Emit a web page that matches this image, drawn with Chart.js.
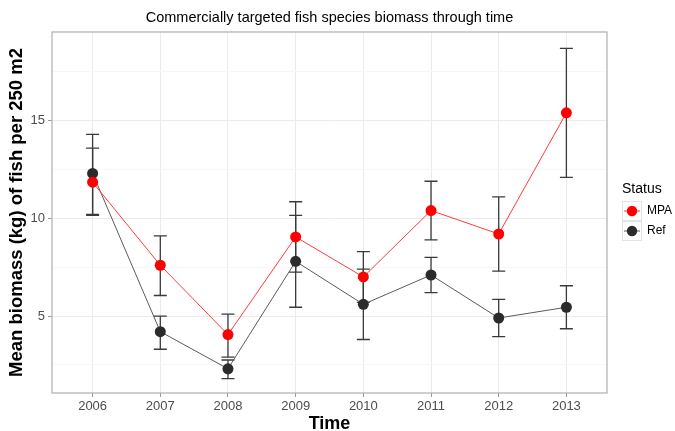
<!DOCTYPE html>
<html>
<head>
<meta charset="utf-8">
<script src="https://cdn.jsdelivr.net/npm/chart.js@4"></script>
<style>
  html, body { margin: 0; padding: 0; background: #fff; }
</style>
</head>
<body>
<canvas id="grafico-biomassa" width="675" height="431"></canvas>
<script>
// Dados
const anos = [2006, 2007, 2008, 2009, 2010, 2011, 2012, 2013];
const marcasY = [2.5, 5, 7.5, 10, 12.5, 15, 17.5];

const mpaMedia = [11.85, 7.6, 4.05, 9.05, 7.0, 10.4, 9.2, 15.4];
const mpaInf   = [10.15, 6.05, 2.9, 7.25, 5.7, 8.9, 7.3, 12.1];
const mpaSup   = [13.6, 9.1, 5.1, 10.85, 8.3, 11.9, 11.1, 18.7];

const refMedia = [12.3, 4.2, 2.3, 7.8, 5.6, 7.1, 4.9, 5.45];
const refInf   = [10.2, 3.3, 1.8, 5.45, 3.8, 6.2, 3.95, 4.35];
const refSup   = [14.3, 5.0, 2.75, 10.15, 7.4, 8.0, 5.85, 6.55];

const fonte = 'Liberation Sans, Arial, sans-serif';

function pontos(valores) {
    return anos.map((a, i) => ({ x: a, y: valores[i] }));
}

// Barras de erro desenhadas pelas escalas do gráfico
const barrasErro = {
    id: 'barrasErro',
    beforeDatasetsDraw(chart) {
        const { ctx, scales: { x, y } } = chart;
        ctx.save();
        ctx.strokeStyle = '#3a3a3a';
        ctx.lineWidth = 1.3;
        chart.data.datasets.forEach(ds => {
            ds.inf.forEach((v, i) => {
                const px = x.getPixelForValue(anos[i]);
                const y1 = y.getPixelForValue(v);
                const y2 = y.getPixelForValue(ds.sup[i]);
                ctx.beginPath();
                ctx.moveTo(px, y1); ctx.lineTo(px, y2);
                ctx.moveTo(px - 6.5, y1); ctx.lineTo(px + 6.5, y1);
                ctx.moveTo(px - 6.5, y2); ctx.lineTo(px + 6.5, y2);
                ctx.stroke();
            });
        });
        ctx.restore();
    }
};

// Borda do painel e legenda no estilo ggplot
const moldura = {
    id: 'moldura',
    afterDraw(chart) {
        const { ctx, chartArea: a } = chart;
        ctx.save();
        ctx.strokeStyle = '#b5b5b5';
        ctx.lineWidth = 1.3;
        ctx.strokeRect(a.left, a.top, a.right - a.left, a.bottom - a.top);

        const lx = a.right + 15;
        ctx.fillStyle = '#000';
        ctx.font = '14px ' + fonte;
        ctx.textBaseline = 'middle';
        ctx.fillText('Status', lx, 189);

        chart.data.datasets.forEach((ds, i) => {
            const top = 201 + i * 20;
            ctx.fillStyle = '#fff';
            ctx.fillRect(lx, top, 19, 19);
            ctx.strokeStyle = '#e3e3e3';
            ctx.lineWidth = 1;
            ctx.strokeRect(lx + 0.5, top + 0.5, 19, 19);
            ctx.strokeStyle = ds.borderColor;
            ctx.beginPath();
            ctx.moveTo(lx + 2, top + 10);
            ctx.lineTo(lx + 18, top + 10);
            ctx.stroke();
            ctx.fillStyle = ds.backgroundColor;
            ctx.beginPath();
            ctx.arc(lx + 10, top + 10, 5.2, 0, Math.PI * 2);
            ctx.fill();
            ctx.fillStyle = '#000';
            ctx.font = '12px ' + fonte;
            ctx.fillText(ds.label, lx + 25, top + 10);
        });
        ctx.restore();
    }
};

const ehMaior = v => v % 5 === 0;

new Chart(document.getElementById('grafico-biomassa'), {
    type: 'line',
    data: {
        datasets: [
            {
                label: 'MPA',
                data: pontos(mpaMedia),
                inf: mpaInf,
                sup: mpaSup,
                borderColor: '#ff3b3b',
                backgroundColor: '#ff0000',
                borderWidth: 1,
                pointRadius: 5.5,
                pointBorderWidth: 0,
                pointHoverRadius: 5.5
            },
            {
                label: 'Ref',
                data: pontos(refMedia),
                inf: refInf,
                sup: refSup,
                borderColor: '#5a5a5a',
                backgroundColor: '#2b2b2b',
                borderWidth: 1,
                pointRadius: 5.5,
                pointBorderWidth: 0,
                pointHoverRadius: 5.5
            }
        ]
    },
    options: {
        responsive: false,
        animation: false,
        devicePixelRatio: 1,
        layout: { padding: { left: 0, right: 68, top: 0, bottom: 0 } },
        plugins: {
            legend: { display: false },
            tooltip: { enabled: false },
            title: {
                display: true,
                fullSize: false,
                text: 'Commercially targeted fish species biomass through time',
                color: '#000',
                font: { family: fonte, size: 14.5, weight: 'normal' },
                padding: { top: 9, bottom: 5.6 }
            }
        },
        scales: {
            x: {
                type: 'linear',
                min: 2005.4,
                max: 2013.6,
                afterBuildTicks: s => { s.ticks = anos.map(v => ({ value: v })); },
                afterFit: s => { s.height = 38; },
                border: { display: false },
                grid: { color: '#ebebeb', tickColor: '#999', tickLength: 4 },
                ticks: {
                    color: '#4d4d4d',
                    padding: 2,
                    font: { family: fonte, size: 13 },
                    callback: v => String(v)
                },
                title: {
                    display: true,
                    text: 'Time',
                    color: '#000',
                    font: { family: fonte, size: 18, weight: 'bold', lineHeight: 0.8 },
                    padding: { top: 0, bottom: 0 }
                }
            },
            y: {
                min: 1.06,
                max: 19.54,
                afterBuildTicks: s => { s.ticks = marcasY.map(v => ({ value: v })); },
                afterFit: s => { s.width = 52; },
                border: { display: false },
                grid: {
                    color: c => (c.tick && ehMaior(c.tick.value)) ? '#ebebeb' : '#f7f7f7',
                    tickColor: c => (c.tick && ehMaior(c.tick.value)) ? '#999' : 'rgba(0,0,0,0)',
                    tickLength: 4
                },
                ticks: {
                    color: '#4d4d4d',
                    padding: 3,
                    font: { family: fonte, size: 13 },
                    callback: v => ehMaior(v) ? String(v) : ''
                },
                title: {
                    display: true,
                    text: 'Mean biomass (kg) of fish per 250 m2',
                    color: '#000',
                    font: { family: fonte, size: 18.5, weight: 'bold', lineHeight: 1.2 },
                    padding: { top: 6, bottom: 0 }
                }
            }
        }
    },
    plugins: [barrasErro, moldura]
});
</script>
</body>
</html>
